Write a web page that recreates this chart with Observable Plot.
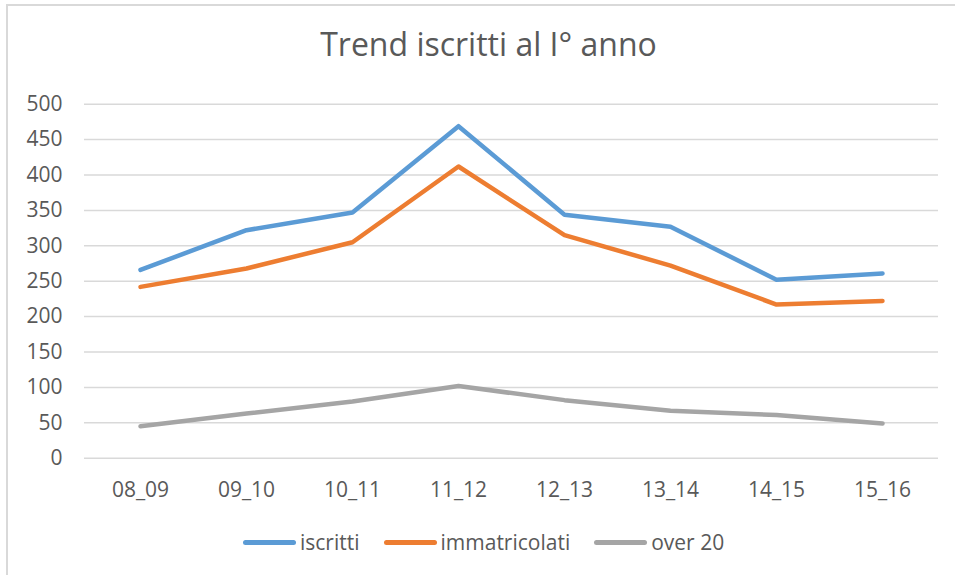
<!DOCTYPE html>
<html>
<head>
<meta charset="utf-8">
<script src="https://cdn.jsdelivr.net/npm/d3@7"></script>
<script src="https://cdn.jsdelivr.net/npm/@observablehq/plot@0.6"></script>
<style>
  html, body { margin: 0; padding: 0; overflow: hidden; background: #fff; }
  #wrap { position: relative; width: 955px; height: 575px; font-family: "Open Sans", sans-serif; color: #595959; }
  #frame { position: absolute; left: 6px; top: 4px; width: 1000px; height: 1000px; border: 2px solid #d9d9d9; box-sizing: border-box; pointer-events: none; }
  #title { height: 70px; box-sizing: border-box; padding-top: 28px; padding-left: 22px; line-height: 32px; font-size: 32px; text-align: center; white-space: nowrap; }
  #chart svg { display: block; }
  #legend { height: 54px; display: flex; align-items: center; padding-left: 243px; font-size: 21px; white-space: nowrap; }
  .item { display: flex; align-items: center; margin-right: 24px; }
  .sw { display: inline-block; width: 53px; height: 5px; border-radius: 3px; margin-right: 4px; }
</style>
</head>
<body>
<div id="wrap">
  <div id="frame"></div>
  <div id="title">Trend iscritti al I° anno</div>
  <div id="chart"></div>
  <div id="legend"></div>
</div>
<script>
const categories = ["08_09", "09_10", "10_11", "11_12", "12_13", "13_14", "14_15", "15_16"];
const iscritti = [266, 322, 347, 469, 344, 327, 252, 261];
const immatricolati = [242, 268, 305, 412, 315, 272, 217, 222];
const over20 = [45, 63, 80, 102, 82, 67, 61, 49];
const seriesNames = ["iscritti", "immatricolati", "over 20"];
const seriesColors = ["#5b9bd5", "#ed7d31", "#a5a5a5"];
const yTicks = [0, 50, 100, 150, 200, 250, 300, 350, 400, 450, 500];

const seriesValues = [iscritti, immatricolati, over20];
const data = [];
seriesNames.forEach((name, si) => {
  categories.forEach((c, i) => data.push({ series: name, cat: c, value: seriesValues[si][i] }));
});

const chart = Plot.plot({
  width: 955,
  height: 445,
  marginLeft: 84,
  marginRight: 17,
  marginTop: 33.7,
  marginBottom: 57.3,
  style: { fontFamily: "Open Sans, sans-serif", fontSize: "21px", color: "#595959", background: "transparent" },
  x: { type: "point", domain: categories, padding: 0.5, label: null },
  y: { domain: [0, 500], label: null },
  color: { domain: seriesNames, range: seriesColors },
  marks: [
    Plot.gridY(yTicks, { stroke: "#d9d9d9", strokeOpacity: 1, strokeWidth: 1.5 }),
    Plot.axisY(yTicks, { tickSize: 0, tickPadding: 22, fill: "#595959", label: null }),
    Plot.axisX({ tickSize: 0, tickPadding: 24, fill: "#595959", label: null }),
    Plot.line(data, { x: "cat", y: "value", z: "series", stroke: "series", strokeWidth: 4.5, strokeLinecap: "round", strokeLinejoin: "round" })
  ]
});
document.getElementById("chart").appendChild(chart);

const legend = document.getElementById("legend");
seriesNames.forEach((name, i) => {
  const item = document.createElement("div");
  item.className = "item";
  const sw = document.createElement("span");
  sw.className = "sw";
  sw.style.background = seriesColors[i];
  const t = document.createElement("span");
  t.textContent = name;
  item.appendChild(sw);
  item.appendChild(t);
  legend.appendChild(item);
});
</script>
</body>
</html>
